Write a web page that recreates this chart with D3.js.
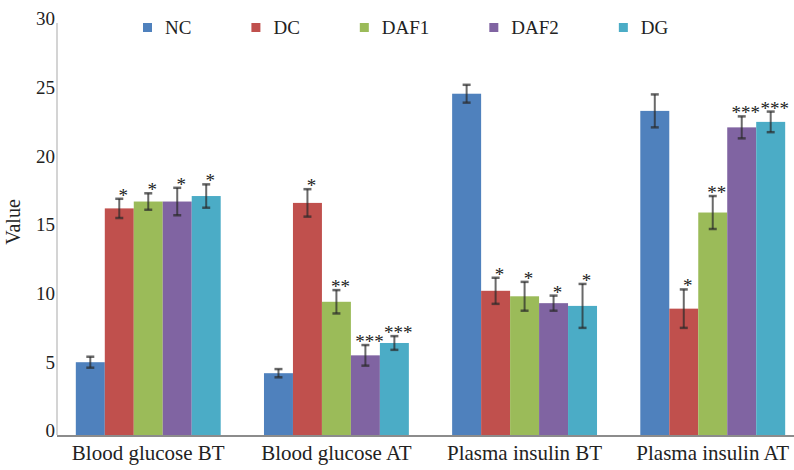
<!DOCTYPE html>
<html>
<head>
<meta charset="utf-8">
<script src="https://cdn.jsdelivr.net/npm/d3@7"></script>
<style>
  html, body { margin: 0; padding: 0; background: #fff; }
  svg { display: block; }
  text { font-family: "Liberation Serif", "Times New Roman", serif; fill: #222; }
</style>
</head>
<body>
<svg id="chart" width="794" height="470"></svg>
<script>
// ---- data ----
const categories = ["Blood glucose BT", "Blood glucose AT", "Plasma insulin BT", "Plasma insulin AT"];
const seriesNames = ["NC", "DC", "DAF1", "DAF2", "DG"];
const seriesColors = ["#4f81bd", "#c0504d", "#9bbb59", "#8064a2", "#4bacc6"];
const valuesNC   = [5.3, 4.5, 24.85, 23.6];
const valuesDC   = [16.5, 16.9, 10.5, 9.2];
const valuesDAF1 = [17.0, 9.7, 10.1, 16.2];
const valuesDAF2 = [17.0, 5.8, 9.6, 22.4];
const valuesDG   = [17.4, 6.7, 9.4, 22.8];
const errorsNC   = [0.4, 0.3, 0.65, 1.2];
const errorsDC   = [0.7, 1.0, 0.95, 1.4];
const errorsDAF1 = [0.6, 0.85, 1.05, 1.2];
const errorsDAF2 = [1.0, 0.75, 0.55, 0.8];
const errorsDG   = [0.85, 0.5, 1.6, 0.75];
const signifNC   = ["", "", "", ""];
const signifDC   = ["*", "*", "*", "*"];
const signifDAF1 = ["*", "**", "*", "**"];
const signifDAF2 = ["*", "***", "*", "***"];
const signifDG   = ["*", "***", "*", "***"];
const yTicks = [0, 5, 10, 15, 20, 25, 30];
const yLabel = "Value";

const seriesValues = [valuesNC, valuesDC, valuesDAF1, valuesDAF2, valuesDG];
const seriesErrors = [errorsNC, errorsDC, errorsDAF1, errorsDAF2, errorsDG];
const seriesSignif = [signifNC, signifDC, signifDAF1, signifDAF2, signifDG];

// ---- layout ----
const FONT = '"Liberation Serif", "Times New Roman", serif';
const svg = d3.select("#chart");
const axisX = 57, plotRight = 794, y0 = 435, yTop = 23;

const x0 = d3.scaleBand().domain(categories).range([axisX, 804]).paddingInner(0.23).paddingOuter(0.1);
const x1 = d3.scaleBand().domain(seriesNames).range([0, x0.bandwidth()]).padding(0);
const y = d3.scaleLinear().domain([0, 30]).range([y0, yTop]);
const color = d3.scaleOrdinal().domain(seriesNames).range(seriesColors);

// y axis line (light gray)
svg.append("line").attr("x1", axisX).attr("x2", axisX).attr("y1", y(30)).attr("y2", y(0))
  .attr("stroke", "#d4d4d4").attr("stroke-width", 2);

// y tick labels
const yAxis = d3.axisLeft(y).tickValues(yTicks).tickSize(0).tickPadding(2);
const gy = svg.append("g").attr("transform", `translate(${axisX},0)`).call(yAxis);
gy.attr("font-family", null).attr("font-size", null);
gy.select(".domain").remove();
gy.selectAll("text").style("font-family", FONT).style("font-size", "19px")
  .attr("fill", "#222").attr("dy", "0.1em");

// y label
svg.append("text").attr("transform", `translate(20,222) rotate(-90)`)
  .attr("text-anchor", "middle").style("font-family", FONT).style("font-size", "20px").text(yLabel);

// bars
const rows = [];
categories.forEach((c, ci) => {
  seriesNames.forEach((s, si) => {
    rows.push({ cat: c, ser: s, v: seriesValues[si][ci], e: seriesErrors[si][ci], sig: seriesSignif[si][ci] });
  });
});

const g = svg.append("g");
g.selectAll("rect.bar").data(rows).enter().append("rect").attr("class", "bar")
  .attr("x", d => x0(d.cat) + x1(d.ser))
  .attr("y", d => y(d.v))
  .attr("width", x1.bandwidth())
  .attr("height", d => y(0) - y(d.v))
  .attr("fill", d => color(d.ser));

// error bars
const eb = g.selectAll("g.err").data(rows).enter().append("g").attr("class", "err")
  .attr("transform", d => `translate(${x0(d.cat) + x1(d.ser) + x1.bandwidth() / 2},0)`);
eb.append("line").attr("x1", 0).attr("x2", 0)
  .attr("y1", d => y(d.v + d.e)).attr("y2", d => y(d.v - d.e))
  .attr("stroke", "#2a2a2a").attr("stroke-width", 2).attr("stroke-opacity", 0.7);
eb.append("line").attr("x1", -4).attr("x2", 4)
  .attr("y1", d => y(d.v + d.e)).attr("y2", d => y(d.v + d.e))
  .attr("stroke", "#2a2a2a").attr("stroke-width", 2.5).attr("stroke-opacity", 0.7);
eb.append("line").attr("x1", -4).attr("x2", 4)
  .attr("y1", d => y(d.v - d.e)).attr("y2", d => y(d.v - d.e))
  .attr("stroke", "#2a2a2a").attr("stroke-width", 2.5).attr("stroke-opacity", 0.7);

// significance marks
eb.append("text").attr("x", 4).attr("y", d => y(d.v + d.e) + 3)
  .attr("text-anchor", "middle").style("font-family", FONT).style("font-size", "19px").attr("fill", "#333")
  .text(d => d.sig);

// x baseline
svg.append("line").attr("x1", axisX).attr("x2", plotRight).attr("y1", y(0) + 1).attr("y2", y(0) + 1)
  .attr("stroke", "#8c8c8c").attr("stroke-width", 2);

// category labels
const xAxis = d3.axisBottom(x0).tickSize(0).tickPadding(8);
const gx = svg.append("g").attr("transform", `translate(0,${y0 + 2})`).call(xAxis);
gx.attr("font-family", null).attr("font-size", null);
gx.select(".domain").remove();
gx.selectAll("text").style("font-family", FONT).style("font-size", "21px")
  .attr("fill", "#222");

// legend
const lg = svg.append("g");
let lx = 143;
seriesNames.forEach((s, i) => {
  lg.append("rect").attr("x", lx).attr("y", 23).attr("width", 9).attr("height", 9).attr("fill", color(s));
  const t = lg.append("text").attr("x", lx + 22).attr("y", 34)
    .style("font-family", FONT).style("font-size", "19px").text(s);
  const w = t.node().getComputedTextLength();
  lx = lx + 22 + w + 60;
});
</script>
</body>
</html>
